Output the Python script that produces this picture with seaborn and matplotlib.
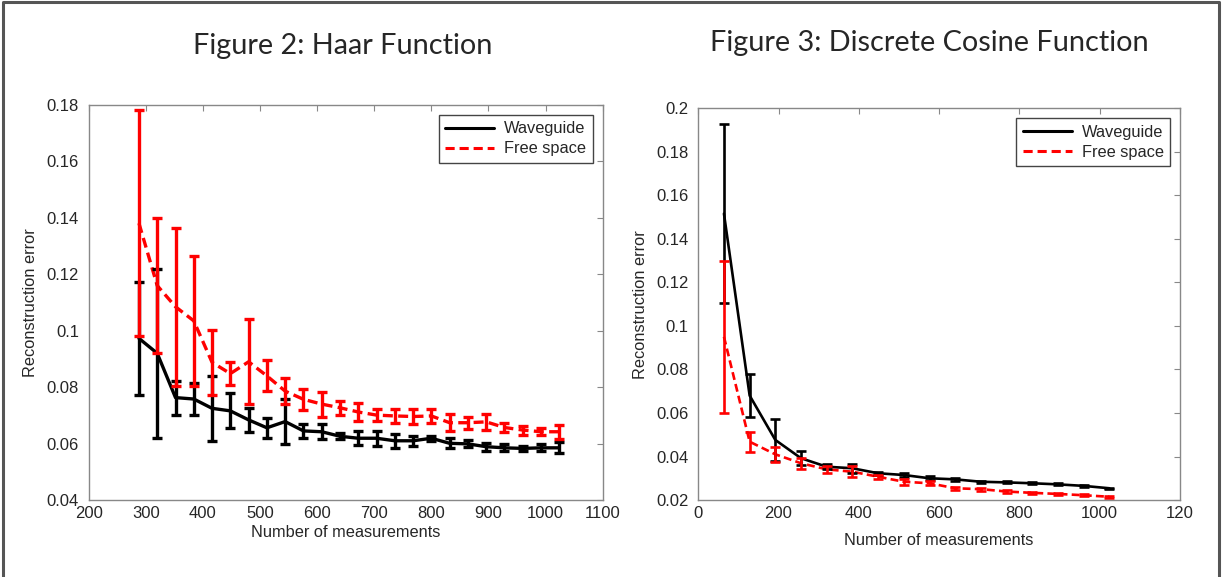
import matplotlib.pyplot as plt
import matplotlib.lines as mlines
import numpy as np
import pandas as pd
import seaborn as sns

# Figure 2: Haar function
haar_n = [288, 320, 352, 384, 416, 448, 480, 512, 544, 576, 608, 640,
          672, 704, 736, 768, 800, 832, 864, 896, 928, 960, 992, 1024]
haar_wave = [0.0973, 0.0920, 0.0763, 0.0758, 0.0725, 0.0716, 0.0684, 0.0656,
             0.0678, 0.0645, 0.0642, 0.0626, 0.0619, 0.0619, 0.0610, 0.0610,
             0.0619, 0.0601, 0.0599, 0.0589, 0.0585, 0.0583, 0.0585, 0.0585]
haar_wave_err = [0.0200, 0.0300, 0.0060, 0.0055, 0.0115, 0.0062, 0.0042, 0.0036,
                 0.0080, 0.0025, 0.0027, 0.0011, 0.0024, 0.0026, 0.0024, 0.0018,
                 0.0009, 0.0018, 0.0012, 0.0014, 0.0013, 0.0009, 0.0012, 0.0020]
haar_free = [0.1381, 0.1160, 0.1085, 0.1035, 0.0888, 0.0848, 0.0890, 0.0840,
             0.0786, 0.0757, 0.0740, 0.0727, 0.0712, 0.0701, 0.0698, 0.0696,
             0.0698, 0.0674, 0.0674, 0.0677, 0.0657, 0.0648, 0.0642, 0.0642]
haar_free_err = [0.0400, 0.0240, 0.0280, 0.0230, 0.0115, 0.0040, 0.0150, 0.0055,
                 0.0046, 0.0037, 0.0044, 0.0024, 0.0031, 0.0020, 0.0025, 0.0026,
                 0.0026, 0.0031, 0.0022, 0.0028, 0.0017, 0.0016, 0.0013, 0.0025]

# Figure 3: discrete cosine function
dct_n = [64, 128, 192, 256, 320, 384, 448, 512, 576, 640, 704, 768, 832, 896, 960, 1024]
dct_wave = [0.1516, 0.0680, 0.0476, 0.0392, 0.0353, 0.0346, 0.0323, 0.0315,
            0.0300, 0.0295, 0.0284, 0.0281, 0.0277, 0.0272, 0.0265, 0.0254]
dct_wave_err = [0.0410, 0.0100, 0.0095, 0.0033, 0.0012, 0.0020, 0.0008, 0.0008,
                0.0010, 0.0006, 0.0005, 0.0005, 0.0004, 0.0004, 0.0004, 0.0003]
dct_free = [0.0950, 0.0468, 0.0410, 0.0369, 0.0341, 0.0330, 0.0307, 0.0284,
            0.0277, 0.0254, 0.0250, 0.0239, 0.0233, 0.0228, 0.0222, 0.0215]
dct_free_err = [0.0350, 0.0046, 0.0035, 0.0025, 0.0015, 0.0025, 0.0010, 0.0013,
                0.0010, 0.0007, 0.0007, 0.0006, 0.0005, 0.0005, 0.0005, 0.0004]

titles = ["Figure 2: Haar Function", "Figure 3: Discrete Cosine Function"]
labels = ["Waveguide", "Free space"]

sns.set_style("white")
plt.rcParams["font.family"] = ["Liberation Sans", "DejaVu Sans"]

fig = plt.figure(figsize=(12.25, 5.77), dpi=100)
ax1 = fig.add_axes([0.0724, 0.1334, 0.4196, 0.6846])
ax2 = fig.add_axes([0.5700, 0.1334, 0.3933, 0.6789])

# outer frame: top, left and right edges only
frame_kw = dict(transform=fig.transFigure, color="#555555", linewidth=2.2)
fig.lines.append(mlines.Line2D([0.0025, 0.0025, 0.9950, 0.9950],
                               [0.0, 0.9965, 0.9965, 0.0], **frame_kw))


def draw_panel(ax, n, wave, wave_err, free, free_err, lw):
    df = pd.DataFrame({"n": n * 2, "err": wave + free,
                       "series": [labels[0]] * len(n) + [labels[1]] * len(n)})
    sns.lineplot(data=df, x="n", y="err", hue="series", style="series",
                 palette={labels[0]: "black", labels[1]: "red"},
                 dashes={labels[0]: "", labels[1]: (3, 1.6)},
                 linewidth=lw, ax=ax)
    ax.errorbar(n, wave, yerr=wave_err, fmt="none", ecolor="black",
                elinewidth=lw, capsize=3.5, capthick=lw)
    ax.errorbar(n, free, yerr=free_err, fmt="none", ecolor="red",
                elinewidth=lw, capsize=3.5, capthick=lw)
    ax.set_xlabel("Number of measurements", fontsize=11.8, labelpad=3)
    ax.set_ylabel("Reconstruction error", fontsize=11.8, labelpad=6)
    ax.tick_params(direction="in", length=4, width=0.8, color="#888888",
                   top=True, right=True, labelsize=12)
    ax.tick_params(axis="y", pad=7)
    ax.tick_params(axis="x", pad=4)
    for s in ax.spines.values():
        s.set_color("#888888")
        s.set_linewidth(1.0)
    leg = ax.legend(loc="upper right", fontsize=11.8, frameon=True, fancybox=False,
                    edgecolor="#444444", framealpha=1, handlelength=3.0,
                    borderaxespad=0.6, labelspacing=0.3, borderpad=0.4,
                    handletextpad=0.6)
    leg.get_frame().set_linewidth(1.0)
    for h in leg.get_lines():
        h.set_linewidth(2.2)


draw_panel(ax1, haar_n, haar_wave, haar_wave_err, haar_free, haar_free_err, 2.4)
ax1.set_xlim(200, 1100)
ax1.set_ylim(0.04, 0.18)
ax1.set_xticks(np.arange(200, 1101, 100))
ax1.set_yticks(np.arange(0.04, 0.181, 0.02))
ax1.set_yticklabels(["0.04", "0.06", "0.08", "0.1", "0.12", "0.14", "0.16", "0.18"])

draw_panel(ax2, dct_n, dct_wave, dct_wave_err, dct_free, dct_free_err, 1.9)
ax2.set_xlim(0, 1200)
ax2.set_ylim(0.02, 0.2)
ax2.set_xticks(np.arange(0, 1201, 200))
ax2.set_xticklabels(["0", "200", "400", "600", "800", "1000", "120"])
ax2.set_yticks(np.arange(0.02, 0.201, 0.02))
ax2.set_yticklabels(["0.02", "0.04", "0.06", "0.08", "0.1", "0.12", "0.14",
                     "0.16", "0.18", "0.2"])
ax2.xaxis.labelpad = 9

fig.text(0.280, 0.920, titles[0], ha="center", va="center", fontsize=20.8, family="Lato")
fig.text(0.759, 0.926, titles[1], ha="center", va="center", fontsize=20.8, family="Lato")

fig.savefig("out.png", dpi=100)
